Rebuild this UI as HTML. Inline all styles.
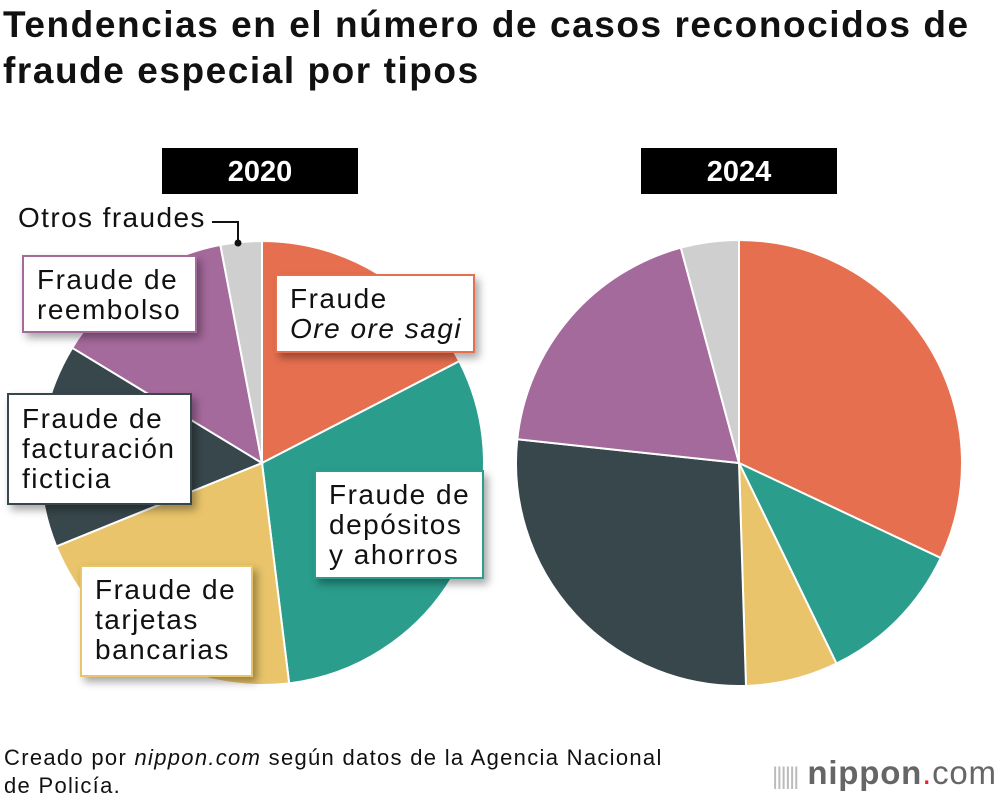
<!DOCTYPE html>
<html><head><meta charset="utf-8"><style>
body{margin:0;width:1000px;height:804px;background:#fff;font-family:"Liberation Sans",sans-serif;position:relative;overflow:hidden}
.t{position:absolute;left:3px;top:2px;font-size:37px;font-weight:bold;line-height:46px;color:#111;letter-spacing:1.55px;white-space:nowrap}
.yr{position:absolute;top:148px;width:196px;height:46px;background:#000;color:#fff;font-weight:bold;font-size:29px;text-align:center;line-height:48px}
.lb{position:absolute;background:#fff;border:2px solid;font-size:28px;letter-spacing:1.5px;line-height:30px;padding:8px 13px;box-sizing:border-box;box-shadow:4px 5px 8px rgba(0,0,0,0.35);color:#111;white-space:nowrap}
.src{position:absolute;left:4px;top:744px;font-size:22px;letter-spacing:1.3px;line-height:28px;color:#111;white-space:nowrap}
svg{position:absolute;left:0;top:0}
</style></head><body>
<div class="t">Tendencias en el número de casos reconocidos de<br>fraude especial por tipos</div>
<svg id="chart" width="1000" height="804"></svg>
<div class="yr" style="left:162px">2020</div>
<div class="yr" style="left:641px">2024</div>
<div style="position:absolute;left:18px;top:202px;font-size:28px;letter-spacing:1.4px;color:#111;white-space:nowrap">Otros fraudes</div>
<div class="lb" style="left:22px;top:255px;width:175px;height:78px;border-color:#a56a9c">Fraude de<br>reembolso</div>
<div class="lb" style="left:275px;top:274px;width:200px;height:79px;border-color:#e66f4f">Fraude<br><i>Ore ore sagi</i></div>
<div class="lb" style="left:7px;top:393px;width:185px;height:112px;border-color:#37474c;padding-top:9px">Fraude de<br>facturación<br>ficticia</div>
<div class="lb" style="left:314px;top:470px;width:170px;height:109px;border-color:#2a9d8c">Fraude de<br>depósitos<br>y ahorros</div>
<div class="lb" style="left:80px;top:565px;width:173px;height:112px;border-color:#e9c46a">Fraude de<br>tarjetas<br>bancarias</div>
<div class="src">Creado por <i>nippon.com</i> según datos de la Agencia Nacional<br>de Policía.</div>
<div style="position:absolute;left:772px;top:754px;font-size:33px;color:#666;letter-spacing:0.8px;white-space:nowrap"><span style="color:#bbb;font-size:24px;letter-spacing:-2px">||||||</span> <b>nippon</b><span style="color:#e22">.</span>com</div>
<script>
const categories=["Ore ore sagi","Depósitos y ahorros","Tarjetas bancarias","Facturación ficticia","Reembolso","Otros"];
const colors=["#e66f4f","#2a9d8c","#e9c46a","#37474c","#a56a9c","#cfcfcf"];
const values2020=[17.4,30.6,20.8,14.8,13.3,3.0];
const values2024=[32.0,10.8,6.7,27.2,19.1,4.2];
const svg=document.getElementById('chart');
const NS='http://www.w3.org/2000/svg';
function pt(cx,cy,r,a){return [cx+r*Math.sin(a),cy-r*Math.cos(a)];}
function pie(vals,cx,cy,r,year){
  const tot=vals.reduce((a,b)=>a+b,0);let a0=0;
  vals.forEach((v,i)=>{
    const a1=a0+v/tot*2*Math.PI;
    const p0=pt(cx,cy,r,a0),p1=pt(cx,cy,r,a1);
    const p=document.createElementNS(NS,'path');
    p.setAttribute('d',`M${cx},${cy}L${p0[0]},${p0[1]}A${r},${r} 0 ${a1-a0>Math.PI?1:0} 1 ${p1[0]},${p1[1]}Z`);
    p.setAttribute('fill',colors[i]);p.setAttribute('stroke','#fff');p.setAttribute('stroke-width','2');
    
    
    svg.appendChild(p);a0=a1;
  });
}
pie(values2020,262,463,222,2020);
pie(values2024,739,463,223,2024);
const ln=document.createElementNS(NS,'path');
ln.setAttribute('d','M212,222H238V243');ln.setAttribute('stroke','#111');ln.setAttribute('stroke-width','2');ln.setAttribute('fill','none');


svg.appendChild(ln);
const dot=document.createElementNS(NS,'circle');
dot.setAttribute('cx','238');dot.setAttribute('cy','243');dot.setAttribute('r','3.5');dot.setAttribute('fill','#111');


svg.appendChild(dot);
</script>
</body></html>
